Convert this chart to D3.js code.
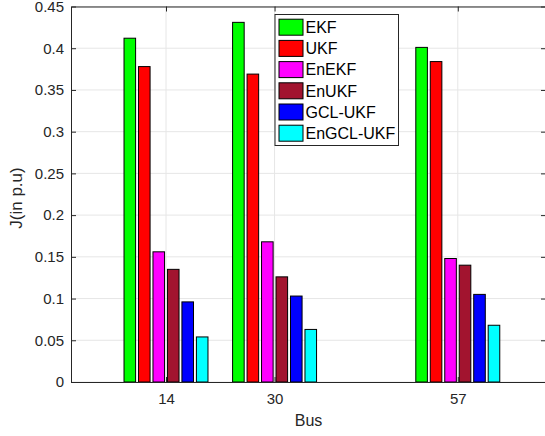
<!DOCTYPE html>
<html>
<head>
<meta charset="utf-8">
<script src="https://cdn.jsdelivr.net/npm/d3@7"></script>
<style>
  body { margin: 0; background: #fff; }
  svg { display: block; font-family: "Liberation Sans", Arial, sans-serif; }
  .axis text { fill: #262626; font-size: 15px; }
  .axis path, .axis line { stroke: #262626; }
</style>
</head>
<body>
<svg id="chart"></svg>
<script>
// grouped bar chart of J per bus system, one bar per filter

const width = 545;
const height = 436;

const buses = [14, 30, 57];
const methods = ["EKF", "UKF", "EnEKF", "EnUKF", "GCL-UKF", "EnGCL-UKF"];
const colors = ["#00ff00", "#ff0000", "#ff00ff", "#a2142f", "#0000ff", "#00ffff"];

const ekf = [0.412, 0.431, 0.401];
const ukf = [0.378, 0.369, 0.384];
const enekf = [0.156, 0.168, 0.148];
const enukf = [0.135, 0.126, 0.14];
const gclukf = [0.096, 0.103, 0.105];
const engclukf = [0.054, 0.063, 0.068];

const yTicks = [0, 0.05, 0.1, 0.15, 0.2, 0.25, 0.3, 0.35, 0.4, 0.45];

const series = [ekf, ukf, enekf, enukf, gclukf, engclukf];

const plotLeft = 71;
const plotRight = 546;
const plotTop = 6.5;
const plotBottom = 382;

const svg = d3.select("#chart").attr("width", width).attr("height", height);

const xScale = d3.scaleLinear().domain([0, 70]).range([plotLeft, plotRight]);
const yScale = d3.scaleLinear().domain([0, 0.45]).range([plotBottom, plotTop]);

// matlab style grouping: group spans 0.8 of the spacing between buses
const groupWidth = 0.8 * 16;
const offset = d3
  .scaleBand()
  .domain(methods)
  .range([-groupWidth / 2, groupWidth / 2])
  .paddingInner(0.2)
  .paddingOuter(0.1);

// grid
const grid = svg.append("g").attr("stroke", "#e6e6e6").attr("stroke-width", 1);
grid
  .selectAll(".hgrid")
  .data(yTicks)
  .enter()
  .append("line")
  .attr("x1", plotLeft)
  .attr("x2", plotRight)
  .attr("y1", (d) => yScale(d))
  .attr("y2", (d) => yScale(d));
grid
  .selectAll(".vgrid")
  .data(buses)
  .enter()
  .append("line")
  .attr("x1", (d) => xScale(d))
  .attr("x2", (d) => xScale(d))
  .attr("y1", plotTop)
  .attr("y2", plotBottom);

// bars
const rows = [];
series.forEach((vals, i) => {
  vals.forEach((v, j) => {
    rows.push({ method: methods[i], color: colors[i], bus: buses[j], value: v });
  });
});

svg
  .append("g")
  .selectAll("rect")
  .data(rows)
  .enter()
  .append("rect")
  .attr("x", (d) => xScale(d.bus + offset(d.method)))
  .attr("width", (d) => xScale(offset.bandwidth()) - xScale(0))
  .attr("y", (d) => yScale(d.value))
  .attr("height", (d) => yScale(0) - yScale(d.value))
  .attr("fill", (d) => d.color)
  .attr("stroke", "#000")
  .attr("stroke-width", 1);

// axes (ticks pointing inward like matlab)
svg
  .append("g")
  .attr("class", "axis")
  .attr("transform", "translate(" + plotLeft + ",0)")
  .call(d3.axisLeft(yScale).tickValues(yTicks).tickSize(-5).tickSizeOuter(0).tickPadding(7).tickFormat(d3.format("~g")));

svg
  .append("g")
  .attr("class", "axis")
  .attr("transform", "translate(0," + plotBottom + ")")
  .call(d3.axisBottom(xScale).tickValues(buses).tickSize(-5).tickSizeOuter(0).tickPadding(11));

svg
  .append("g")
  .attr("class", "axis")
  .attr("transform", "translate(0," + plotTop + ")")
  .call(d3.axisTop(xScale).tickValues(buses).tickSize(-5).tickSizeOuter(0).tickFormat(""));

svg
  .append("g")
  .attr("class", "axis")
  .attr("transform", "translate(" + plotRight + ",0)")
  .call(d3.axisRight(yScale).tickValues(yTicks).tickSize(-5).tickSizeOuter(0).tickFormat(""));

// axis labels
svg
  .append("text")
  .attr("x", (plotLeft + plotRight) / 2)
  .attr("y", 426)
  .attr("text-anchor", "middle")
  .attr("fill", "#262626")
  .style("font-size", "16px")
  .text("Bus");

svg
  .append("text")
  .attr("transform", "translate(22,198) rotate(-90)")
  .attr("text-anchor", "middle")
  .attr("fill", "#262626")
  .style("font-size", "17px")
  .text("J(in p.u)");

// legend
const legend = svg.append("g").attr("transform", "translate(275,14.5)");
legend
  .append("rect")
  .attr("width", 123.5)
  .attr("height", 131)
  .attr("fill", "#fff")
  .attr("stroke", "#262626");

const item = legend
  .selectAll(".item")
  .data(methods)
  .enter()
  .append("g")
  .attr("transform", (d, i) => "translate(0," + (12.7 + i * 21.2) + ")");

item
  .append("rect")
  .attr("x", 4)
  .attr("y", -8)
  .attr("width", 24)
  .attr("height", 16)
  .attr("fill", (d, i) => colors[i])
  .attr("stroke", "#000");

item
  .append("text")
  .attr("x", 30.5)
  .attr("dy", "0.36em")
  .style("font-size", "16px")
  .attr("fill", "#000")
  .text((d) => d);
</script>
</body>
</html>
